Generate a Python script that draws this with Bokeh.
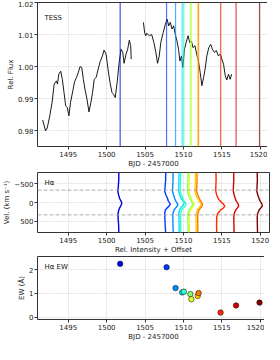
from bokeh.plotting import figure
from bokeh.layouts import column
from bokeh.models import Range1d, Span, Label, FixedTicker
from bokeh.embed import file_html
from bokeh.resources import INLINE

# ---------------- data ----------------
# TESS light curve, segment 1 and 2 (BJD - 2457000, relative flux)
lc1_t = [1491.67, 1492.05, 1492.27, 1492.6, 1492.9, 1493.17, 1493.46, 1493.6, 1493.77, 1494.03,
         1494.23, 1494.45, 1494.67, 1494.87, 1495.09, 1495.3, 1495.6, 1495.82, 1496.08, 1496.33,
         1496.54, 1496.76, 1496.97, 1497.18, 1497.44, 1497.7, 1497.95, 1498.17, 1498.38, 1498.64,
         1498.9, 1499.15, 1499.45, 1499.67, 1499.92, 1500.18, 1500.44, 1500.69, 1500.9, 1501.12,
         1501.37, 1501.63, 1501.88, 1502.1, 1502.27, 1502.53, 1502.74, 1502.95, 1503.13, 1503.2]
lc1_f = [0.9833, 0.9799, 0.9808, 0.9846, 0.9888, 0.9945, 0.9955, 0.9945, 0.9976, 0.9985,
         0.9960, 0.9919, 0.9877, 0.9872, 0.9846, 0.9888, 0.9924, 0.9952, 0.9966, 0.9983,
         1.0000, 0.9997, 0.9960, 0.9929, 0.9898, 0.9858, 0.9888, 0.9919, 0.9960, 0.9966,
         0.9992, 1.0015, 1.0033, 1.0051, 1.0039, 0.9992, 0.9950, 0.9919, 0.9913, 0.9903,
         0.9950, 1.0013, 1.0054, 1.0044, 1.0010, 1.0039, 1.0054, 1.0082, 1.0065, 1.0023]
lc2_t = [1504.79, 1504.95, 1505.09, 1505.22, 1505.56, 1505.86, 1506.15, 1506.41, 1506.63, 1506.85,
         1507.05, 1507.36, 1507.65, 1507.87, 1508.08, 1508.29, 1508.51, 1508.72, 1508.94, 1509.15,
         1509.36, 1509.54, 1509.74, 1509.92, 1510.13, 1510.35, 1510.6, 1510.82, 1511.03, 1511.24,
         1511.5, 1511.72, 1511.97, 1512.18, 1512.4, 1512.62, 1512.82, 1513.04, 1513.3, 1513.55,
         1513.77, 1514.03, 1514.28, 1514.54, 1514.79, 1515.0, 1515.22, 1515.44, 1515.64, 1515.86,
         1516.08, 1516.28]
lc2_f = [1.0138, 1.0105, 1.0096, 1.0104, 1.0096, 1.0100, 1.0075, 1.0044, 1.0010, 1.0033,
         1.0075, 1.0106, 1.0132, 1.0148, 1.0127, 1.0138, 1.0117, 1.0127, 1.0100, 1.0080,
         1.0054, 1.0017, 1.0033, 0.9997, 1.0054, 1.0075, 1.0096, 1.0075, 1.0080, 1.0059,
         1.0065, 1.0039, 1.0013, 0.9981, 0.9940, 0.9966, 0.9992, 1.0033, 1.0059, 1.0069,
         1.0054, 1.0044, 1.0050, 1.0033, 1.0039, 1.0023, 1.0007, 0.9971, 0.9958, 0.9976,
         0.9960, 0.9976]

# spectra epochs (BJD - 2457000) and H-alpha equivalent widths (Angstrom)
spec_t = [1501.76, 1507.80, 1508.97, 1509.83, 1510.05, 1510.90, 1511.03, 1511.85, 1511.97,
          1514.83, 1516.85, 1519.90]
ew = [2.24, 2.10, 1.22, 1.04, 1.07, 0.97, 0.75, 0.89, 1.01, 0.19, 0.49, 0.61]
colors = ["#0000e6", "#003aff", "#008dff", "#00e0ff", "#35ffc9", "#89ff76",
          "#dcff23", "#ffcf00", "#ff7a00", "#ff2800", "#d30000", "#800000"]

# H-alpha profiles: velocity grid (km/s) and intensity offsets (in days) per epoch
vel = [-800, -600, -400, -300, -200, -100, -50, 0, 50, 100, 150, 200, 300, 400, 600, 800]
spec_dx = [
    [-0.17, -0.18, -0.25, -0.30, -0.20, -0.05, 0.08, 0.20, 0.18, 0.05, -0.08, -0.18, -0.28, -0.27, -0.20, -0.17],
    [-0.11, -0.12, -0.20, -0.24, -0.08, 0.15, 0.20, 0.35, 0.49, 0.30, 0.05, -0.15, -0.24, -0.22, -0.18, -0.12],
    [-0.33, -0.33, -0.38, -0.40, -0.25, -0.10, 0.00, 0.15, 0.31, 0.20, 0.00, -0.20, -0.35, -0.36, -0.33, -0.30],
    [-0.42, -0.42, -0.45, -0.45, -0.30, -0.10, 0.10, 0.28, 0.20, 0.00, -0.20, -0.35, -0.42, -0.42, -0.40, -0.38],
    [-0.43, -0.43, -0.46, -0.47, -0.30, -0.12, 0.00, 0.20, 0.30, 0.15, -0.10, -0.30, -0.42, -0.42, -0.40, -0.38],
    [-0.30, -0.32, -0.36, -0.38, -0.25, -0.05, 0.10, 0.22, 0.30, 0.20, 0.00, -0.20, -0.33, -0.33, -0.30, -0.28],
    [-0.26, -0.28, -0.32, -0.34, -0.20, 0.00, 0.12, 0.25, 0.35, 0.25, 0.05, -0.15, -0.30, -0.30, -0.27, -0.25],
    [-0.31, -0.30, -0.33, -0.35, -0.20, 0.00, 0.15, 0.30, 0.42, 0.35, 0.15, -0.05, -0.20, -0.22, -0.20, -0.18],
    [-0.21, -0.20, -0.24, -0.26, -0.10, 0.10, 0.25, 0.40, 0.50, 0.45, 0.25, 0.05, -0.10, -0.12, -0.10, -0.10],
    [-0.60, -0.58, -0.62, -0.62, -0.50, -0.30, -0.10, 0.15, 0.40, 0.55, 0.35, 0.00, -0.40, -0.50, -0.52, -0.50],
    [-0.31, -0.30, -0.35, -0.36, -0.25, -0.10, 0.00, 0.15, 0.30, 0.33, 0.15, -0.05, -0.25, -0.30, -0.28, -0.26],
    [-0.30, -0.28, -0.33, -0.35, -0.22, -0.05, 0.05, 0.20, 0.33, 0.36, 0.15, -0.05, -0.25, -0.30, -0.28, -0.26],
]
vel_marks = [-330, 330]

x_ticks = [1495, 1500, 1505, 1510, 1515, 1520]
flux_ticks = [0.98, 0.99, 1.00, 1.01, 1.02]
vel_ticks = [-500, 0, 500]
ew_ticks = [0, 1, 2]

# ---------------- plotting ----------------
FONT = "DejaVu Sans"
X0, X1 = 1491.0, 1521.2


def make(frame_h, y_range, xlabel, ylabel, yticks, ylabels, top_border):
    p = figure(frame_width=232, frame_height=frame_h, x_range=Range1d(X0, X1), y_range=y_range,
               output_backend="svg", toolbar_location=None,
               min_border_left=31, min_border_right=1, min_border_top=top_border,
               min_border_bottom=0, background_fill_color="white", border_fill_color="white")
    p.outline_line_color = "#333333"
    p.outline_line_width = 1
    p.xaxis.ticker = FixedTicker(ticks=x_ticks)
    p.yaxis.ticker = FixedTicker(ticks=yticks)
    p.yaxis.major_label_overrides = {t: l for t, l in zip(yticks, ylabels)}
    p.xaxis.axis_label = xlabel
    p.yaxis.axis_label = ylabel
    for ax in (p.xaxis, p.yaxis):
        ax.axis_line_color = None
        ax.major_tick_line_color = "#333333"
        ax.major_tick_out = 3
        ax.major_tick_in = 0
        ax.minor_tick_line_color = None
        ax.major_label_text_font = FONT
        ax.major_label_text_font_size = "7px"
        ax.major_label_text_color = "#222222"
        ax.major_label_standoff = 1
        ax.axis_label_text_font = FONT
        ax.axis_label_text_font_size = "7px"
        ax.axis_label_text_font_style = "normal"
        ax.axis_label_text_color = "#222222"
        ax.axis_label_standoff = 0
    p.grid.grid_line_color = "#d8d8d8"
    p.grid.grid_line_dash = "2 1"
    p.grid.grid_line_width = 0.8
    return p


# top: light curve
p1 = make(144, Range1d(0.975, 1.02), "BJD - 2457000", "Rel. Flux", flux_ticks,
          ["0.98", "0.99", "1.00", "1.01", "1.02"], 2)
for t, c in zip(spec_t, colors):
    p1.add_layout(Span(location=t, dimension="height", line_color=c, line_alpha=0.7, line_width=1.2))
p1.line(lc1_t, lc1_f, line_color="black", line_width=0.9)
p1.line(lc2_t, lc2_f, line_color="black", line_width=0.9)
p1.add_layout(Label(x=1491.9, y=1.0153, text="TESS", text_font=FONT, text_font_size="7px",
                    text_baseline="middle", text_color="#111111"))

# middle: H-alpha profiles
p2 = make(60, Range1d(800, -800), "Rel. Intensity + Offset", "Vel. (km s\u207b\u00b9)", vel_ticks,
          ["\u2212500", "0", "500"], 2)
for v in vel_marks:
    p2.add_layout(Span(location=v, dimension="width", line_color="#999999", line_dash="4 2",
                       line_width=0.8))
for t, dx, c in zip(spec_t, spec_dx, colors):
    p2.line([t + d for d in dx], vel, line_color=c, line_width=1.4)
p2.add_layout(Label(x=1491.9, y=-510, text="H\u03b1", text_font=FONT, text_font_size="7px",
                    text_baseline="middle", text_color="#111111"))

# bottom: EW
p3 = make(63, Range1d(-0.1, 2.55), "BJD - 2457000", "EW (\u00c5)", ew_ticks, ["0", "1", "2"], 0)
p3.scatter(spec_t, ew, size=5.5, fill_color=colors, line_color="black", line_width=0.5)
p3.add_layout(Label(x=1491.9, y=2.11, text="H\u03b1 EW", text_font=FONT, text_font_size="7px",
                    text_baseline="middle", text_color="#111111"))

layout = column(p1, p2, p3, spacing=0)
open("out.html", "w").write(file_html(layout, INLINE))
